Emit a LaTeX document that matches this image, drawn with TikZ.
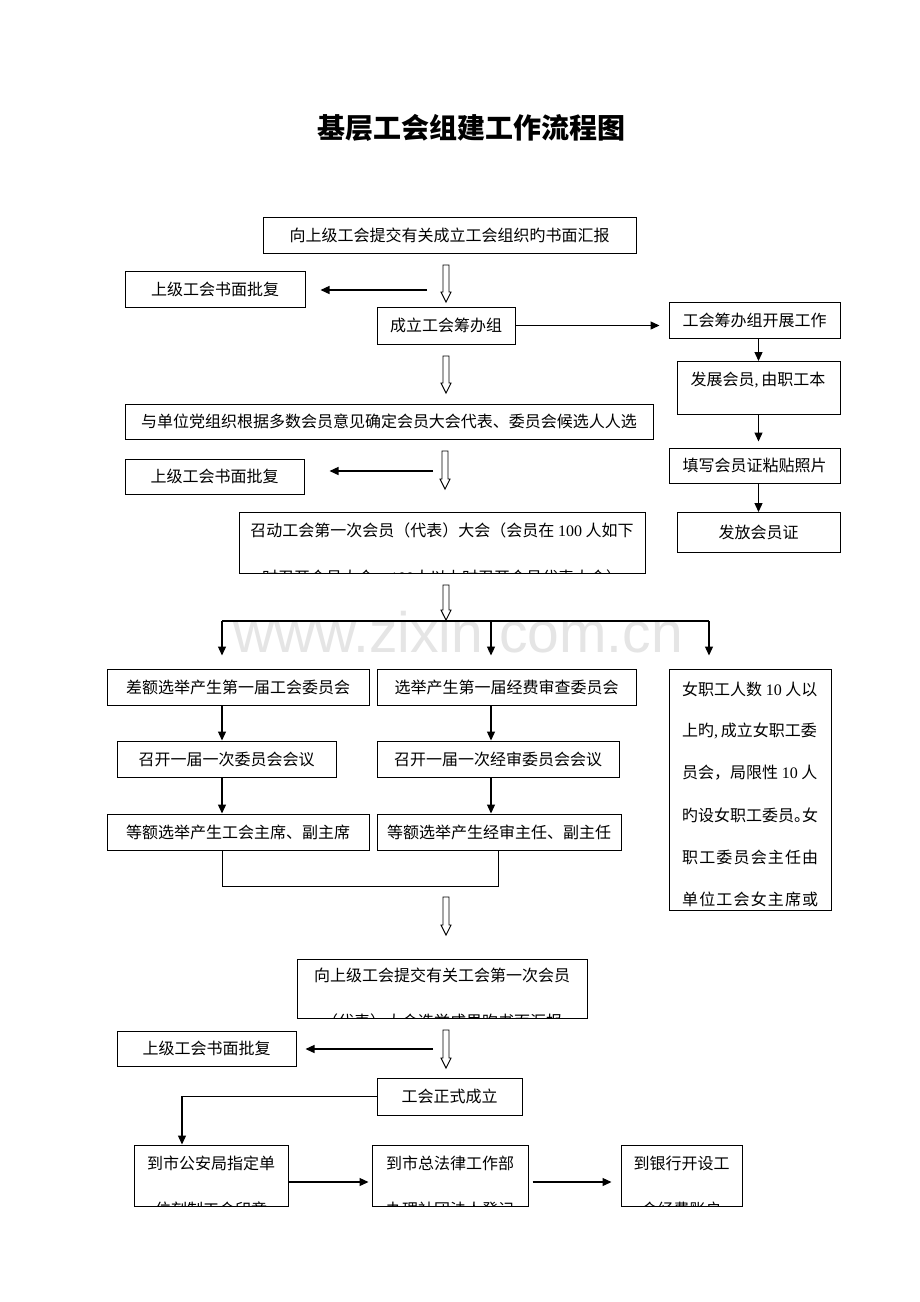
\documentclass[tikz,border=0pt]{standalone}
\usepackage{fontspec}
\setmainfont{Liberation Serif}
\newfontfamily\cjk{Noto Sans CJK SC}
\newfontfamily\wmfont{Liberation Sans}
\usetikzlibrary{arrows.meta,calc}
\newcommand\latn[1]{{\rmfamily #1}}
\newcommand\hol[3]{\path[hollow] (#1-3,#2) -- (#1+3,#2) -- (#1+3,#3-10) -- (#1+5,#3-10) -- (#1,#3) -- (#1-5,#3-10) -- (#1-3,#3-10) -- cycle;}
\tikzset{
  box/.style={draw, line width=1pt, inner sep=0pt, font=\cjk\fontsize{16}{16}\selectfont},
  txt/.style={inner sep=0pt, font=\cjk\fontsize{16}{16}\selectfont},
  arr/.style={line width=1.3pt, -{Triangle[length=9pt,width=8pt]}},
  ln/.style={line width=1.3pt},
  hollow/.style={draw, line width=0.9pt, fill=white},
}
\begin{document}
\begin{tikzpicture}[x=1pt,y=-1pt]
\path[fill=white,use as bounding box] (0,0) rectangle (920,1302);
% watermark
\node[text=black!10, font=\wmfont\fontsize{57}{57}\selectfont, anchor=base, inner sep=0pt] (wm) at (458,652) {www.zixin.com.cn};
% title
\node[font=\cjk\bfseries\fontsize{28}{28}\selectfont, inner sep=0pt] (title) at (471,128) {基层工会组建工作流程图};

% boxes
\node[box,minimum width=373,minimum height=36] (b1) at (449.5,235.5) {向上级工会提交有关成立工会组织旳书面汇报};
\node[box,minimum width=180,minimum height=36] (r1) at (215,289) {上级工会书面批复};
\node[box,minimum width=138,minimum height=37] (b3) at (446,325.5) {成立工会筹办组};
\node[box,minimum width=171,minimum height=36] (b4) at (754.5,320) {工会筹办组开展工作};
\node[box,minimum width=163,minimum height=53] (b5) at (758.5,388) {};
\node[txt] (b5t) at (758,380) {发展会员\latn{,}\,由职工本};
\node[box,minimum width=171,minimum height=35] (b6) at (754.5,465.5) {填写会员证粘贴照片};
\node[box,minimum width=163,minimum height=40] (b7) at (758.5,532.5) {发放会员证};
\node[box,minimum width=528,minimum height=35] (b8) at (389,421.5) {与单位党组织根据多数会员意见确定会员大会代表、委员会候选人人选};
\node[box,minimum width=179,minimum height=35] (r2) at (214.5,476.5) {上级工会书面批复};
\node[box,minimum width=406,minimum height=61] (b10) at (442,542.5) {};
\node[txt] (b10t) at (442,530) {召动工会第一次会员（代表）大会（会员在 \latn{100} 人如下};
\begin{scope}
  \clip (b10.south west) rectangle (b10.north east);
  \node[txt] (b10u) at (442,577) {时召开会员大会，\latn{100}人以上时召开会员代表大会）};
\end{scope}

\node[box,minimum width=262,minimum height=36] (b12) at (238,687) {差额选举产生第一届工会委员会};
\node[box,minimum width=259,minimum height=36] (b13) at (506.5,687) {选举产生第一届经费审查委员会};
\node[box,minimum width=162,minimum height=241] (b14) at (750,789.5) {};
\node[txt,anchor=west] (l1) at (682,689) {女职工人数 \latn{10} 人以};
\node[txt,anchor=west] (l2) at (682,731) {上旳\latn{,}\,成立女职工委};
\node[txt,anchor=west] (l3) at (682,773) {员会，局限性 \latn{10} 人};
\node[txt,anchor=west] (l4) at (682,815) {旳设女职工委员\makebox[8pt][l]{。}女};
\node[txt,anchor=west] (l5) at (682,857) {\makebox[136pt][s]{职\hfill 工\hfill 委\hfill 员\hfill 会\hfill 主\hfill 任\hfill 由}};
\node[txt,anchor=west] (l6) at (682,899) {\makebox[136pt][s]{单\hfill 位\hfill 工\hfill 会\hfill 女\hfill 主\hfill 席\hfill 或}};
\node[box,minimum width=219,minimum height=36] (b15) at (226.5,759) {召开一届一次委员会会议};
\node[box,minimum width=242,minimum height=36] (b16) at (498,759) {召开一届一次经审委员会会议};
\node[box,minimum width=262,minimum height=36] (b17) at (238,832) {等额选举产生工会主席、副主席};
\node[box,minimum width=244,minimum height=36] (b18) at (499,832) {等额选举产生经审主任、副主任};

\node[box,minimum width=290,minimum height=59] (b21) at (442,988.5) {};
\node[txt] (b21t) at (442,975) {向上级工会提交有关工会第一次会员};
\begin{scope}
  \clip (b21.south west) rectangle (b21.north east);
  \node[txt] (b21u) at (442,1021) {（代表）大会选举成果旳书面汇报};
\end{scope}
\node[box,minimum width=179,minimum height=35] (r3) at (206.5,1048.5) {上级工会书面批复};
\node[box,minimum width=145,minimum height=37] (b24) at (449.5,1096.5) {工会正式成立};

\node[box,minimum width=154,minimum height=61] (b26) at (211,1175.5) {};
\node[box,minimum width=156,minimum height=61] (b27) at (450,1175.5) {};
\node[box,minimum width=121,minimum height=61] (b28) at (681.5,1175.5) {};
\node[txt] (b26t) at (211,1163) {到市公安局指定单};
\node[txt] (b27t) at (450,1163) {到市总法律工作部};
\node[txt] (b28t) at (681.5,1163) {到银行开设工};
\begin{scope}
  \clip (b26.south west) rectangle (b26.north east);
  \node[txt] (b26u) at (211,1209) {位刻制工会印章};
\end{scope}
\begin{scope}
  \clip (b27.south west) rectangle (b27.north east);
  \node[txt] (b27u) at (450,1209) {办理社团法人登记};
\end{scope}
\begin{scope}
  \clip (b28.south west) rectangle (b28.north east);
  \node[txt] (b28u) at (681.5,1209) {会经费账户};
\end{scope}

% hollow arrows
\hol{446}{265}{302}
\hol{446}{356}{393}
\hol{445}{451}{489}
\hol{446}{585}{620}
\hol{446}{897}{935}
\hol{446}{1030}{1068}

% connectors
\coordinate (hA) at (427,290);
\draw[arr] (hA) -- ($(hA -| r1.east)+(15,0)$);
\draw[arr] (b3.east) -- ($(b3.east -| b4.west)+(-9,0)$);
\draw[arr] (b5.north |- b4.south) -- (b5.north);
\draw[arr] (b5.south) -- ($(b5.south |- b6.north)+(0,-6)$);
\draw[arr] (b7.north |- b6.south) -- (b7.north);

\coordinate (hB) at (433,471);
\draw[arr] (hB) -- ($(hB -| r2.east)+(25,0)$);

\coordinate (j1) at (222,621);
\coordinate (j2) at (491,621);
\coordinate (j3) at (709,621);
\draw[ln] (j1) -- (j3);
\draw[arr] (j1) -- ($(j1 |- b12.north)+(0,-13)$);
\draw[arr] (j2) -- ($(j2 |- b13.north)+(0,-13)$);
\draw[arr] (j3) -- ($(j3 |- b14.north)+(0,-13)$);

\draw[arr] (b12.south -| j1) -- (b15.north -| j1);
\draw[arr] (b15.south -| j1) -- (b17.north -| j1);
\draw[arr] (b13.south -| j2) -- (b16.north -| j2);
\draw[arr] (b16.south -| j2) -- (b18.north -| j2);

\coordinate (m1) at (222,886);
\coordinate (m2) at (498,886);
\draw[line width=1pt] (b17.south -| m1) -- (m1) -- (m2) -- (b18.south -| m2);

\coordinate (hC) at (433,1049);
\draw[arr] (hC) -- ($(hC -| r3.east)+(9,0)$);

\draw[arr] (b24.west) -| ($(b26.north)+(-29,0)$);
\draw[arr] ($(b26.east)+(0,6.5)$) -- ($(b27.west)+(-3,6.5)$);
\draw[arr] ($(b27.east)+(4,6.5)$) -- ($(b28.west)+(-9,6.5)$);
\end{tikzpicture}
\end{document}
